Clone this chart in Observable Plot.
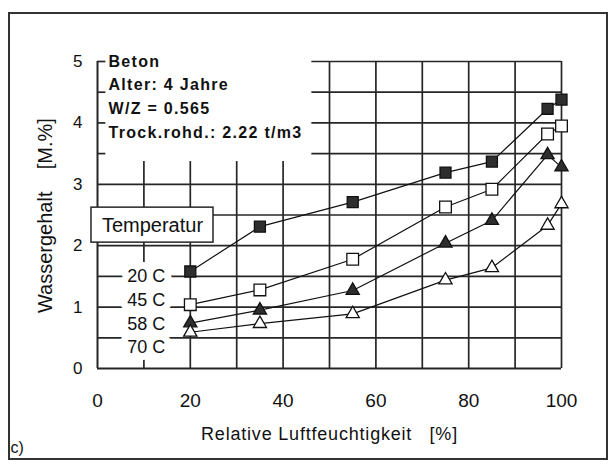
<!DOCTYPE html>
<html>
<head>
<meta charset="utf-8">
<script src="https://cdn.jsdelivr.net/npm/d3@7"></script>
<script src="https://cdn.jsdelivr.net/npm/@observablehq/plot@0.6"></script>
<style>
  html, body { margin: 0; padding: 0; background: #fff; }
  #wrap { position: relative; width: 614px; height: 468px; overflow: hidden; }
  #frame { position: absolute; left: 8px; top: 12px; width: 600px; height: 448px; border: 2px solid #333; box-sizing: border-box; pointer-events: none; }
</style>
</head>
<body>
<div id="wrap"><div id="chart"></div><div id="frame"></div></div>
<script>
// ---- data ----
const humidity = [20, 35, 55, 75, 85, 97, 100];
const seriesNames = ["20 C", "45 C", "58 C", "70 C"];
const water20 = [1.58, 2.31, 2.71, 3.19, 3.37, 4.23, 4.38];
const water45 = [1.04, 1.28, 1.78, 2.63, 2.92, 3.82, 3.95];
const water58 = [0.74, 0.95, 1.27, 2.04, 2.41, 3.48, 3.28];
const water70 = [0.59, 0.73, 0.89, 1.44, 1.64, 2.33, 2.68];
const xTicks = [0, 20, 40, 60, 80, 100];
const yTicks = [0, 1, 2, 3, 4, 5];
const xGridTicks = [10, 20, 30, 40, 50, 60, 70, 80, 90, 100];
const yGridTicks = [0.5, 1, 1.5, 2, 2.5, 3, 3.5, 4, 4.5, 5];
const infoLines = ["Beton", "Alter: 4 Jahre", "W/Z = 0.565", "Trock.rohd.: 2.22 t/m3"];
const legendTitle = "Temperatur";
const xLabel = "Relative Luftfeuchtigkeit   [%]";
const yLabel = "Wassergehalt    [M.%]";
const panelLabel = "c)";

// ---- build table ----
const seriesValues = [water20, water45, water58, water70];
const rows = seriesNames.flatMap((name, s) =>
  humidity.map((h, i) => ({series: name, h, w: seriesValues[s][i]})));

const markerStyle = {
  "20 C": {symbol: "square", fill: "#2e2e2e", r: 6.2},
  "45 C": {symbol: "square", fill: "white", r: 6.6},
  "58 C": {symbol: "triangle", fill: "#2e2e2e", r: 4.9},
  "70 C": {symbol: "triangle", fill: "white", r: 4.9}
};

const gridColor = "#262626";
const gw = 1.7;
const font = "'Liberation Sans', Arial, Helvetica, sans-serif";

const plot = Plot.plot({
  width: 614,
  height: 468,
  marginLeft: 97,
  marginRight: 53,
  marginTop: 61,
  marginBottom: 100,
  x: {domain: [0, 100], axis: null},
  y: {domain: [0, 5], axis: null},
  style: {background: "white", fontFamily: font, color: "black", overflow: "visible"},
  marks: [
    // grid: lower-left verticals stop below the annotation block
    Plot.ruleX(xGridTicks.filter(v => v <= 40), {y1: 0, y2: 3.37, stroke: gridColor, strokeWidth: gw}),
    Plot.ruleX(xGridTicks.filter(v => v >= 50), {y1: 0, y2: 5, stroke: gridColor, strokeWidth: gw}),
    Plot.ruleY(yGridTicks.filter(v => v <= 3), {x1: 0, x2: 100, stroke: gridColor, strokeWidth: gw}),
    Plot.ruleY(yGridTicks.filter(v => v >= 3.5), {x1: 46.2, x2: 100, stroke: gridColor, strokeWidth: gw}),
    Plot.ruleY(yGridTicks.filter(v => v >= 3.5), {x1: 0, x2: 1.8, stroke: gridColor, strokeWidth: gw}),
    // axis lines
    Plot.ruleX([0], {y1: 0, y2: 5, stroke: gridColor, strokeWidth: 2}),
    Plot.ruleY([0], {x1: 0, x2: 100, stroke: gridColor, strokeWidth: 2}),
    // tick labels
    Plot.text(xTicks, {x: d => d, y: 0, dy: 32, text: d => String(d), fontSize: 19, fill: "#111"}),
    Plot.text(yTicks, {x: 0, y: d => d, dx: -15, text: d => String(d), textAnchor: "end", fontSize: 17, fill: "#111"}),
    // axis titles
    Plot.text([xLabel], {x: 50, y: 0, dy: 66, text: d => d, fontSize: 18, fill: "#111", ariaDescription: "xtitle"}),
    Plot.text([yLabel], {x: 0, y: 2.49, dx: -52, rotate: -90, text: d => d, fontSize: 20, fill: "#111"}),
    Plot.text([panelLabel], {x: 0, y: 0, dx: -87, dy: 79, text: d => d, textAnchor: "start", fontSize: 16, fill: "#111"}),
    // annotation block
    Plot.text(infoLines, {x: 0, y: (d, i) => 5 - i * 0.387, dx: 11, text: d => d, textAnchor: "start",
      fontSize: 16, fontWeight: "bold", fill: "#111", ariaDescription: "info"}),
    // legend box
    Plot.rect([legendTitle], {x1: -1.3, x2: 25, y1: 2.05, y2: 2.62, fill: "white", stroke: gridColor, strokeWidth: 1.5}),
    Plot.text([legendTitle], {x: 11.85, y: 2.335, text: d => d, fontSize: 20, fill: "#111"}),
    // series labels with white halo
    Plot.text(seriesNames, {x: 14.6, y: (d, i) => 1.50 - i * 0.387, text: d => d, textAnchor: "end",
      fontSize: 18, fill: "#111", stroke: "white", strokeWidth: 14, paintOrder: "stroke", strokeLinejoin: "round"}),
    // data lines
    Plot.line(rows, {x: "h", y: "w", z: "series", stroke: "#111", strokeWidth: 1.2}),
    // markers
    ...seriesNames.map(name => Plot.dot(rows.filter(d => d.series === name), {
      x: "h", y: "w", symbol: markerStyle[name].symbol, r: markerStyle[name].r,
      fill: markerStyle[name].fill, stroke: "#111", strokeWidth: 1.3
    }))
  ]
});

d3.select(plot).selectAll('g[aria-description="info"] text').style("letter-spacing", "1.3px");
d3.select(plot).selectAll('g[aria-description="xtitle"] text').style("letter-spacing", "0.8px");
document.getElementById("chart").appendChild(plot);
</script>
</body>
</html>
